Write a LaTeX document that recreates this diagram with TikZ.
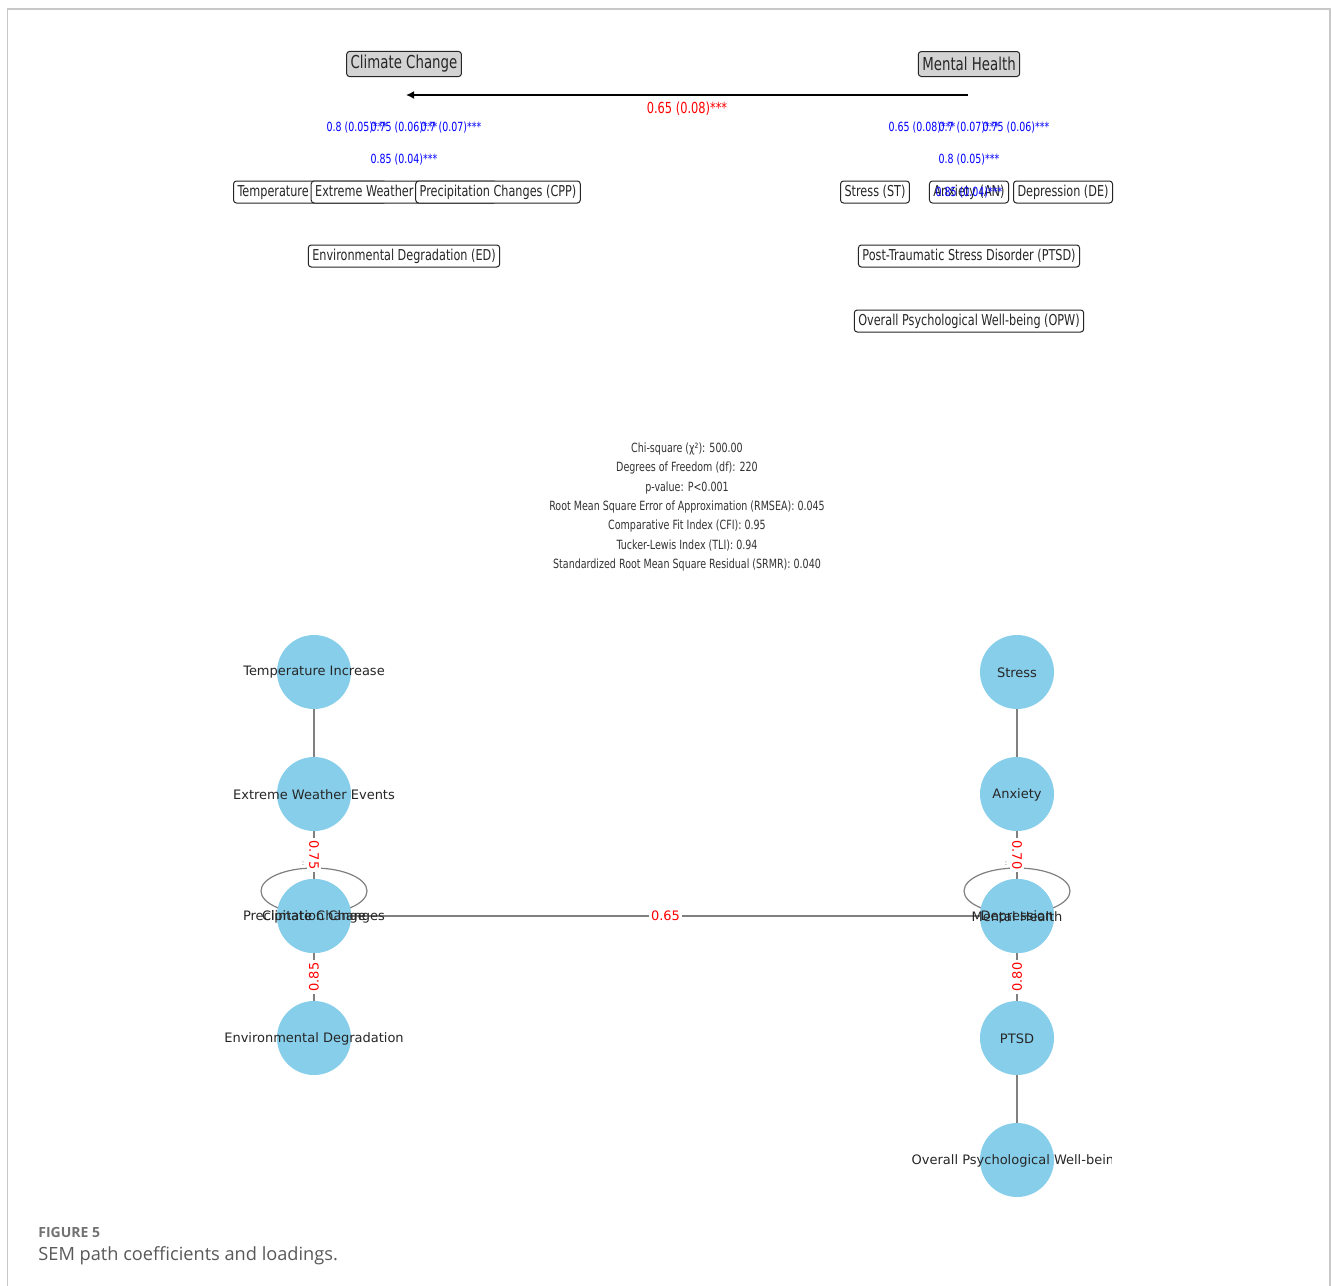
\documentclass[tikz,border=0pt]{standalone}
\usepackage{fontspec}
\setmainfont{DejaVu Sans}
\newfontfamily\cnd[FakeStretch=0.75]{DejaVu Sans}
\newfontfamily\capfont{Open Sans}
\usetikzlibrary{arrows.meta}
\definecolor{skyb}{HTML}{87CEEB}
\definecolor{latgray}{HTML}{D3D3D3}
\definecolor{framec}{HTML}{C8C8C8}
\definecolor{capc}{HTML}{595959}
\definecolor{edgec}{HTML}{808080}
\tikzset{
  latbox/.style={draw=black!85, fill=latgray, rounded corners=1.5pt, line width=0.5pt,
    font=\cnd\fontsize{8.9}{10}\selectfont, text=black!85, inner xsep=2pt, inner ysep=2pt, minimum height=12.5pt},
  indbox/.style={draw=black!85, fill=white, rounded corners=1.5pt, line width=0.5pt,
    font=\cnd\fontsize{7.5}{9}\selectfont, text=black!85, inner xsep=2pt, inner ysep=1.5pt, minimum height=11pt},
  blab/.style={font=\cnd\fontsize{6.3}{7}\selectfont, text=blue, inner sep=0pt},
  circ/.style={circle, fill=skyb, minimum size=37pt, inner sep=0pt},
  clab/.style={font=\fontsize{6.5}{7}\selectfont, text=black!85, inner sep=0pt, yshift=-0.3pt},
  edg/.style={draw=edgec, line width=0.6pt},
  elab/.style={fill=white, text=red, font=\fontsize{6.5}{7}\selectfont, inner sep=1.2pt},
}
\begin{document}
\begin{tikzpicture}[x=0.5pt,y=-0.5pt]
\useasboundingbox (0,0) rectangle (1331,1285);
\fill[white] (0,0) rectangle (1331,1285);
\draw[framec, line width=0.75pt] (7.5,1290) -- (7.5,9) -- (1330,9) -- (1330,1290);

% ---------- top diagram ----------
\node[latbox] (cc) at (404,64) {Climate Change};
\node[latbox] (mh) at (969,64) {Mental Health};
\coordinate (arrS) at (968,95);
\coordinate (arrE) at (406,95);
\draw[line width=1pt, -{Latex[length=4pt,width=4pt]}] (arrS) -- (arrE)
  node[midway, yshift=-6.8pt, font=\cnd\fontsize{7.6}{9}\selectfont, text=red, inner sep=0pt] {0.65 (0.08)***};

\node[indbox] (ti) at (310,192) {Temperature Increase (TI)};
\node[indbox] (ewe) at (404,192) {Extreme Weather Events (EWE)};
\node[indbox] (cpp) at (498,192) {Precipitation Changes (CPP)};
\node[indbox] (ed) at (404,256) {Environmental Degradation (ED)};
\node[indbox] (st) at (875,192) {Stress (ST)};
\node[indbox] (an) at (969,192) {Anxiety (AN)};
\node[indbox] (de) at (1063,192) {Depression (DE)};
\node[indbox] (ptsd) at (969,256) {Post-Traumatic Stress Disorder (PTSD)};
\node[indbox] (opw) at (969,321) {Overall Psychological Well-being (OPW)};

\path (cc.center) -- (ti.center) node[midway, blab] (b1) {0.8 (0.05)***};
\path (cc.center) -- (ewe.center) node[midway, blab] (b2) {0.75 (0.06)***};
\path (cc.center) -- (cpp.center) node[midway, blab] (b3) {0.7 (0.07)***};
\path (cc.center) -- (ed.center) node[midway, blab] (b4) {0.85 (0.04)***};
\path (mh.center) -- (st.center) node[midway, blab] (b5) {0.65 (0.08)***};
\path (mh.center) -- (an.center) node[midway, blab] (b6) {0.7 (0.07)***};
\path (mh.center) -- (de.center) node[midway, blab] (b7) {0.75 (0.06)***};
\path (mh.center) -- (ptsd.center) node[midway, blab] (b8) {0.8 (0.05)***};
\path (mh.center) -- (opw.center) node[midway, blab] (b9) {0.85 (0.04)***};

% ---------- fit statistics ----------
\node[align=center, font=\cnd\fontsize{6.35}{9.65}\selectfont, text=black!80, inner sep=0pt] (fit) at (687,507)
 {Chi-square (χ²): 500.00\\ Degrees of Freedom (df): 220\\ p-value: P<0.001\\
  Root Mean Square Error of Approximation (RMSEA): 0.045\\ Comparative Fit Index (CFI): 0.95\\
  Tucker-Lewis Index (TLI): 0.94\\ Standardized Root Mean Square Residual (SRMR): 0.040};

% ---------- bottom graph ----------
\coordinate (pti) at (314,672);
\coordinate (pewe) at (314,794);
\coordinate (pcc) at (314,916);
\coordinate (ped) at (314,1038);
\coordinate (pst) at (1017,672);
\coordinate (pan) at (1017,794);
\coordinate (pmh) at (1017,916);
\coordinate (pptsd) at (1017,1038);
\coordinate (popw) at (1017,1160);

% self loops
\draw[edg] ([yshift=12.5pt]pcc) ellipse [x radius=53, y radius=23];
\draw[edg] ([yshift=12.5pt]pmh) ellipse [x radius=53, y radius=23];

\node[circ] (cti) at (pti) {};
\node[circ] (cewe) at (pewe) {};
\node[circ] (ccc) at (pcc) {};
\node[circ] (ccpp) at (pcc) {};
\node[circ] (ced) at (ped) {};
\node[circ] (cst) at (pst) {};
\node[circ] (can) at (pan) {};
\node[circ] (cmh) at (pmh) {};
\node[circ] (cde) at (pmh) {};
\node[circ] (cptsd) at (pptsd) {};
\node[circ] (copw) at (popw) {};

\draw[edg] (cti) -- (cewe);
\draw[edg] (cewe) -- (ccc) node[midway, elab, rotate=-90] {0.75};
\draw[edg] (ccc) -- (ced) node[midway, elab, rotate=90] {0.85};
\draw[edg] (ccc) -- (cmh) node[midway, elab] {0.65};
\draw[edg] (cst) -- (can);
\draw[edg] (can) -- (cmh) node[midway, elab, rotate=-90] {0.70};
\draw[edg] (cmh) -- (cptsd) node[midway, elab, rotate=90] {0.80};
\draw[edg] (cptsd) -- (copw);

\node[font=\fontsize{3.5}{3.5}\selectfont, text=black!60, inner sep=0pt] (dotl) at (303,864) {:};
\node[font=\fontsize{3.5}{3.5}\selectfont, text=black!60, inner sep=0pt] (dotr) at (1006,864) {:};

\node[clab] (lti) at (pti) {Temperature Increase};
\node[clab] (lewe) at (pewe) {Extreme Weather Events};
\node[clab] (lcpp) at (pcc) {Precipitation Changes};
\node[clab] (lcc) at (pcc) {Climate Change};
\node[clab] (led) at (ped) {Environmental Degradation};
\node[clab] (lst) at (pst) {Stress};
\node[clab] (lan) at (pan) {Anxiety};
\node[clab] (lde) at (pmh) {Depression};
\node[clab] (lmh) at (pmh) {Mental Health};
\node[clab] (lptsd) at (pptsd) {PTSD};
\begin{scope}
\clip (0,0) rectangle (1111,1285);
\node[clab] (lopw) at (popw) {Overall Psychological Well-being};
\end{scope}

% ---------- caption ----------
\node[anchor=west, font=\capfont\bfseries\fontsize{7}{8}\selectfont, text=capc!85, inner sep=0pt] (figl) at (38,1232) {FIGURE 5};
\node[anchor=west, font=\capfont\fontsize{9.1}{10}\selectfont, text=capc, inner sep=0pt] (capt) at (38,1255.5) {SEM path coefficients and loadings.};
\end{tikzpicture}
\end{document}
